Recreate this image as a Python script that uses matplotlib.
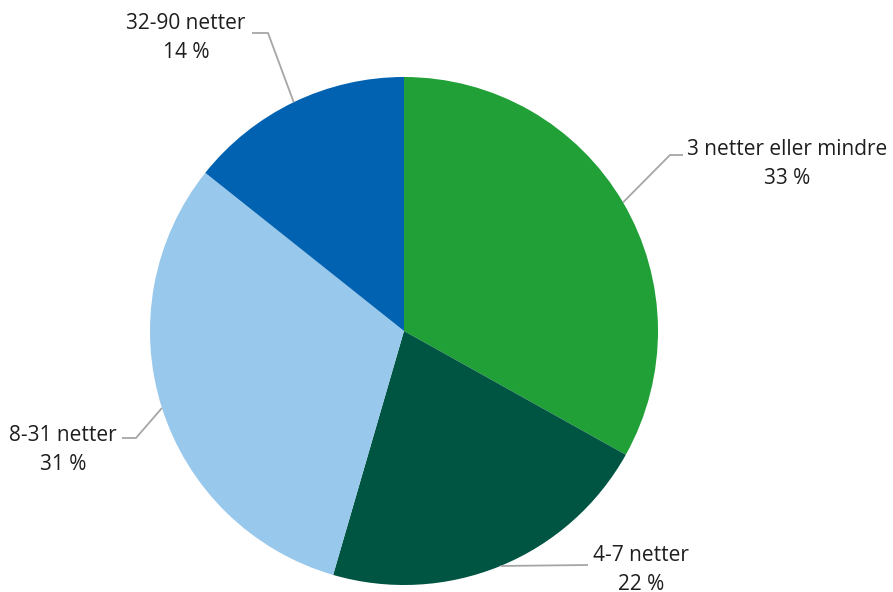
import matplotlib.pyplot as plt
import numpy as np

plt.rcParams['font.family'] = ['Open Sans', 'DejaVu Sans']

categories = ['3 netter eller mindre', '4-7 netter', '8-31 netter', '32-90 netter']
shares = [33.1, 21.4, 31.2, 14.3]
share_labels = ['33 %', '22 %', '31 %', '14 %']
colors = ['#21a038', '#005442', '#98c8ec', '#0062b0']

W, H = 893, 592
fig = plt.figure(figsize=(W / 100, H / 100), dpi=100)
ax = fig.add_axes([0, 0, 1, 1])

cx, cy, r = 404, H - 331, 254
ax.pie(shares, colors=colors, startangle=90, counterclock=False,
       center=(cx, cy), radius=r, frame=True,
       wedgeprops=dict(linewidth=0))

# elbow point, line end, label centre (x, y from top)
layout = [
    ((670, 155), (683, 155), (787, 164)),
    ((588, 565), (588, 565), (641, 570)),
    ((136, 438), (122, 438), (63, 450)),
    ((268, 33), (252, 33), (186, 38)),
]

total = sum(shares)
cum = 0
for cat, val, lab, (elb, end, txt) in zip(categories, shares, share_labels, layout):
    mid = np.deg2rad((cum + val / 2) / total * 360)
    cum += val
    sx = cx + r * np.sin(mid)
    sy = cy + r * np.cos(mid)
    ax.plot([sx, elb[0], end[0]], [sy, H - elb[1], H - end[1]],
            color='#a6a6a6', lw=1.3, solid_capstyle='butt')
    ax.text(txt[0], H - txt[1], f'{cat}\n{lab}', ha='center', va='center',
            fontsize=15, color='#1e1e1e', linespacing=1.5)

ax.set_xlim(0, W)
ax.set_ylim(0, H)
ax.set_aspect('equal')
ax.axis('off')

fig.savefig('out.png', dpi=100)
